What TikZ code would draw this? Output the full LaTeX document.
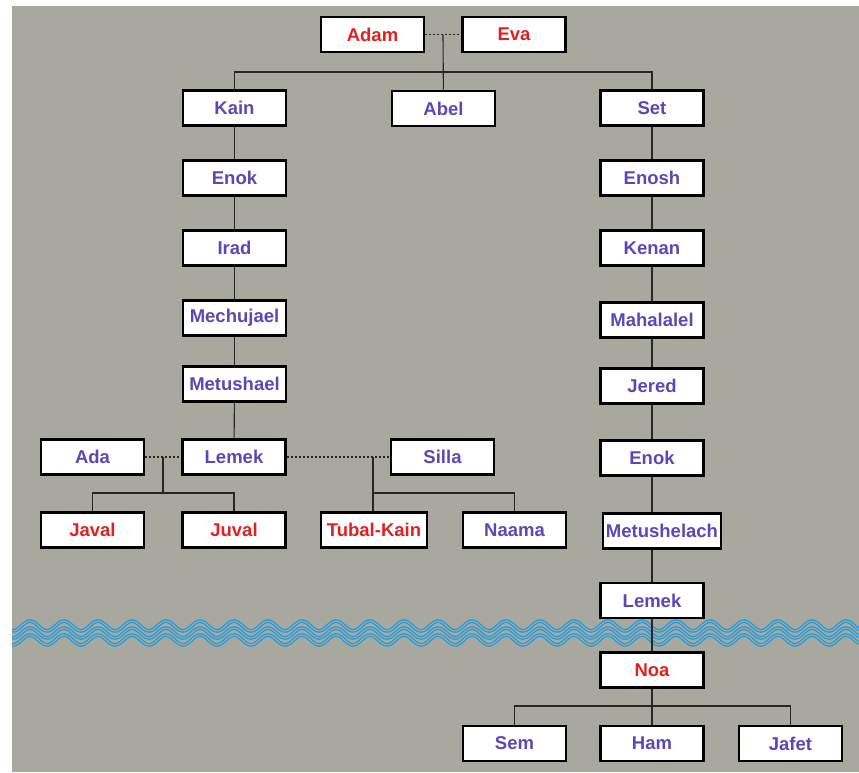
\documentclass[tikz,border=0pt]{standalone}
\usepackage{fontspec}
\setmainfont{Liberation Sans}
\usepackage{tikz}
\usetikzlibrary{calc, positioning}
\definecolor{paper}{RGB}{168,168,158}
\definecolor{namepurple}{RGB}{92,70,185}
\definecolor{namered}{RGB}{226,32,32}
\definecolor{seablue}{RGB}{52,148,198}
\definecolor{seafoam}{RGB}{118,188,220}

\begin{document}
\begin{tikzpicture}[x=1pt, y=-1pt,
		person/.style={rectangle, draw=black, line width=2.6pt, fill=white, minimum width=103pt, minimum height=35pt, inner xsep=1pt, text=namepurple, font=\bfseries\fontsize{18.5}{21}\selectfont},
		redperson/.style={person, text=namered},
		link/.style={line width=1.1pt, draw=black!85},
		wed/.style={link, dash pattern=on 2pt off 2pt},
		sea/.style={line width=3.6pt, draw=seablue}
		]

		\fill[white] (0,0) rectangle (859,772);
		\useasboundingbox (0,0) rectangle (859,772);
		\fill[paper] (12,6) rectangle (859,772);

		% Adam og Eva
		\node[redperson] (Adam) at (372.5, 34.5) {Adam};
		\node[redperson] (Eva) at (514, 34.5) {Eva};
		\node[person] (Kain) at (234.5, 108) {Kain};
		\node[person] (Abel) at (443.5, 108.5) {Abel};
		\node[person] (Set) at (652, 108) {Set};
		\coordinate (AE) at (443, 34.5);
		\coordinate (AEbar) at (443, 72);

		\draw[wed] (Adam) -- (Eva);
		\draw[link] (AE) -- (Abel);
		\draw[link] (Kain) |- (AEbar) -| (Set);

		% Kains linje
		\node[person] (Enok1) at (234.5, 178) {Enok};
		\node[person] (Irad) at (234.5, 248) {Irad};
		\node[person] (Mechujael) at (234.5, 318) {Mechujael};
		\node[person] (Metushael) at (234.5, 384) {Metushael};
		\node[person] (Lemek1) at (234, 457) {Lemek};
		\node[person] (Ada) at (92.5, 457) {Ada};
		\node[person] (Silla) at (442.5, 457) {Silla};
		\node[redperson] (Javal) at (92.5, 530) {Javal};
		\node[redperson] (Juval) at (234, 530) {Juval};
		\node[redperson, minimum width=106pt] (TubalKain) at (374, 530) {Tubal-Kain};
		\node[person] (Naama) at (514.5, 530) {Naama};
		\coordinate (AL) at (163, 457);
		\coordinate (ALbar) at (163, 493);
		\coordinate (LS) at (373, 457);
		\coordinate (LSbar) at (373, 493);

		\draw[link] (Kain) -- (Enok1);
		\draw[link] (Enok1) -- (Irad);
		\draw[link] (Irad) -- (Mechujael);
		\draw[link] (Mechujael) -- (Metushael);
		\draw[link] (Metushael) -- (Lemek1);
		\draw[wed] (Ada) -- (Lemek1);
		\draw[wed] (Lemek1) -- (Silla);
		\draw[link] (AL) -- (ALbar);
		\draw[link] (Javal) |- (ALbar) -| (Juval);
		\draw[link] (LS) -- (LS |- TubalKain.north);
		\draw[link] (LSbar) -| (Naama);

		% Sets linje
		\node[person] (Enosh) at (652, 178) {Enosh};
		\node[person] (Kenan) at (652, 248) {Kenan};
		\node[person] (Mahalalel) at (652, 320) {Mahalalel};
		\node[person] (Jered) at (652, 386) {Jered};
		\node[person] (Enok2) at (652, 458) {Enok};
		\node[person, minimum width=118pt] (Metushelach) at (662, 531) {Metushelach};
		\node[person] (Lemek2) at (652, 600.5) {Lemek};
		\node[redperson] (Noa) at (652, 670) {Noa};
		\node[person] (Sem) at (514.5, 743.5) {Sem};
		\node[person] (Ham) at (652, 743.5) {Ham};
		\node[person] (Jafet) at (790.5, 743.5) {Jafet};
		\coordinate (Noabar) at (652, 706);

		\draw[link] (Set) -- (Enosh);
		\draw[link] (Enosh) -- (Kenan);
		\draw[link] (Kenan) -- (Mahalalel);
		\draw[link] (Mahalalel) -- (Jered);
		\draw[link] (Jered) -- (Enok2);
		\draw[link] (Enok2.south) -- (Enok2.south |- Metushelach.north);
		\draw[link] (Lemek2.north |- Metushelach.south) -- (Lemek2);

		% vannflommen
		\foreach \w in {626, 633, 640} {
			\draw[sea] plot[domain=12:859, samples=260, smooth] (\x, {\w - 5*cos((\x-30)/34*360)});
			\draw[line width=1pt, seafoam] plot[domain=12:859, samples=260, smooth] (\x, {\w - 5*cos((\x-30)/34*360)});
		}

		\draw[link] (Lemek2) -- (Noa);
		\draw[link] (Noa) -- (Ham);
		\draw[link] (Sem) |- (Noabar) -| (Jafet);
	\end{tikzpicture}
\end{document}
